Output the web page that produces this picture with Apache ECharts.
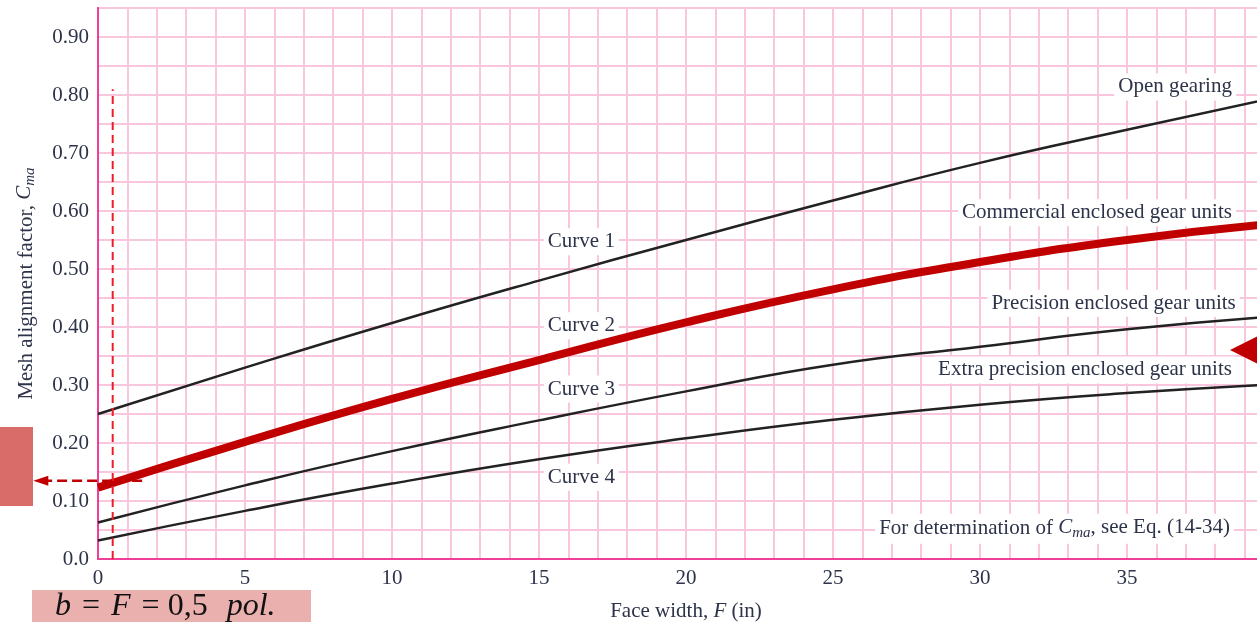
<!DOCTYPE html>
<html><head><meta charset="utf-8">
<script src="https://cdn.jsdelivr.net/npm/echarts@6/dist/echarts.min.js"></script>
<style>html,body{margin:0;padding:0;background:#fff}#c{width:1257px;height:622px}</style>
</head><body><div id="c"></div>
<script>
// ---- data ----
const faceWidth = [0, 5, 10, 15, 20, 25, 30, 35, 40];
const curve1 = [0.250, 0.330, 0.407, 0.480, 0.550, 0.618, 0.683, 0.740, 0.795]; // Open gearing
const curve2 = [0.123, 0.202, 0.276, 0.343, 0.408, 0.465, 0.512, 0.550, 0.578]; // Commercial enclosed
const curve3 = [0.063, 0.127, 0.186, 0.239, 0.289, 0.335, 0.366, 0.396, 0.418]; // Precision enclosed
const curve4 = [0.032, 0.083, 0.130, 0.172, 0.208, 0.240, 0.266, 0.286, 0.301]; // Extra precision
const xTickLabels = ['0', '5', '10', '15', '20', '25', '30', '35', '40'];
const yTickLabels = ['0.0', '0.10', '0.20', '0.30', '0.40', '0.50', '0.60', '0.70', '0.80', '0.90'];
const selectedF = [0.5, 0.5];
const selectedFRange = [0, 0.81];
const readArrowF = [1.5, -2.2];
const readArrowC = [0.135, 0.135];
const curveNames = ['Curve 1', 'Curve 2', 'Curve 3', 'Curve 4'];
const curveNameF = [15.3, 15.3, 15.3, 15.3];
const curveNameC = [0.547, 0.402, 0.293, 0.141];
const typeNames = ['Open gearing', 'Commercial enclosed gear units', 'Precision enclosed gear units', 'Extra precision enclosed gear units'];
const typeNameF = [38.57, 38.57, 38.7, 38.57];
const typeNameC = [0.814, 0.597, 0.441, 0.326];
const noteF = 38.5, noteC = 0.052;

const FONT = 'Liberation Serif';
const FS = 21;
const TXT = '#2d3349';
const pair = (xs, ys) => xs.map((x, i) => [x, ys[i]]);

const chart = echarts.init(document.getElementById('c'), null, {renderer: 'canvas'});
const gridLine = {show: true, lineStyle: {color: '#f9c6dd', width: 2}};
const lineCommon = {type: 'line', smooth: 0.5, showSymbol: false, symbol: 'none'};
const option = {
  animation: false,
  grid: {left: 98, top: 8, width: 1176, height: 551, containLabel: false, outerBoundsMode: 'none',
    show: true, borderColor: '#ef3f98', borderWidth: 2, backgroundColor: 'transparent'},
  xAxis: {
    type: 'value', min: 0, max: 40, interval: 1,
    axisLine: {show: true, lineStyle: {color: '#ef3f98', width: 2}},
    axisTick: {show: false}, splitLine: gridLine,
    axisLabel: {margin: 9, fontFamily: FONT, fontSize: FS, color: TXT,
      formatter: v => (v % 5 === 0 ? xTickLabels[v / 5] : '')},
    name: 'Face width, {i|F} (in)', nameLocation: 'middle', nameGap: 42,
    nameTextStyle: {fontFamily: FONT, fontSize: FS, color: TXT,
      rich: {i: {fontFamily: FONT, fontSize: FS, fontStyle: 'italic', color: TXT}}}
  },
  yAxis: {
    type: 'value', min: 0, max: 0.95, interval: 0.05,
    axisLine: {show: true, lineStyle: {color: '#ef3f98', width: 2}},
    axisTick: {show: false}, splitLine: gridLine,
    axisLabel: {margin: 9, fontFamily: FONT, fontSize: FS, color: TXT,
      formatter: v => { const k = Math.round(v * 20); return k % 2 === 0 ? (yTickLabels[k / 2] || '') : ''; }},
    name: 'Mesh alignment factor, {i|C}{s|ma}', nameLocation: 'middle', nameGap: 84,
    nameTextStyle: {fontFamily: FONT, fontSize: FS, color: TXT, verticalAlign: 'top',
      rich: {
        i: {fontFamily: FONT, fontSize: FS, fontStyle: 'italic', color: TXT, verticalAlign: 'top'},
        s: {fontFamily: FONT, fontSize: 15, fontStyle: 'italic', color: TXT, verticalAlign: 'top', padding: [9, 0, 0, 0]}
      }}
  },
  series: [
    Object.assign({data: pair(faceWidth, curve1), lineStyle: {color: '#222', width: 2.5}, z: 3}, lineCommon),
    Object.assign({data: pair(faceWidth, curve3), lineStyle: {color: '#222', width: 2.5}, z: 3}, lineCommon),
    Object.assign({data: pair(faceWidth, curve4), lineStyle: {color: '#222', width: 2.5}, z: 3}, lineCommon),
    Object.assign({data: pair(faceWidth, curve2), lineStyle: {color: '#c00000', width: 8, cap: 'butt'}, z: 4}, lineCommon),
    {type: 'line', data: pair(selectedF, selectedFRange), showSymbol: false, symbol: 'none', clip: false,
      lineStyle: {color: '#ee1c25', width: 2, type: [8, 5]}, z: 5}
  ]
};
chart.setOption(option);

const px = (x, y) => chart.convertToPixel({gridIndex: 0}, [x, y]);
const graphics = [];
const labelStyle = (text, align) => ({
  text, fill: TXT, font: FS + 'px "' + FONT + '"', textAlign: align, textVerticalAlign: 'middle',
  backgroundColor: '#fff', padding: [3, 4, 3, 4]
});
curveNames.forEach((t, i) => {
  const p = px(curveNameF[i], curveNameC[i]);
  graphics.push({type: 'text', x: p[0] - 4, y: p[1], z: 1, style: labelStyle(t, 'left')});
});
typeNames.forEach((t, i) => {
  const p = px(typeNameF[i], typeNameC[i]);
  graphics.push({type: 'text', x: p[0] + 4, y: p[1], z: 1, style: labelStyle(t, 'right')});
});
const np = px(noteF, noteC);
graphics.push({type: 'text', x: np[0] + 4, y: np[1], z: 1, style: {
  text: 'For determination of {i|C}{s|ma}{n|, see Eq. (14-34)}', fill: TXT, font: FS + 'px "' + FONT + '"',
  textAlign: 'right', textVerticalAlign: 'middle', backgroundColor: '#fff', padding: [3, 4, 3, 4],
  rich: {
    n: {fontFamily: FONT, fontSize: FS, fill: TXT, verticalAlign: 'top'},
    i: {fontFamily: FONT, fontSize: FS, fontStyle: 'italic', fill: TXT, verticalAlign: 'top'},
    s: {fontFamily: FONT, fontSize: 15, fontStyle: 'italic', fill: TXT, verticalAlign: 'top', padding: [9, 0, 0, 0]}
  }
}});
// dashed read-off arrow (from the curve at F = 0.5 to the left)
const a0 = px(readArrowF[0], readArrowC[0]);
const a1 = px(readArrowF[1], readArrowC[1]);
graphics.push({type: 'line', z: 20, shape: {x1: a0[0], y1: a0[1], x2: a1[0] + 12, y2: a1[1]},
  style: {stroke: '#c00000', lineWidth: 2.5, lineDash: [10, 5]}});
graphics.push({type: 'polygon', z: 20, shape: {points: [[a1[0], a1[1]], [a1[0] + 15, a1[1] - 5], [a1[0] + 15, a1[1] + 5]]},
  style: {fill: '#c00000'}});
// side annotation boxes
graphics.push({type: 'rect', shape: {x: 0, y: 427, width: 33, height: 79}, style: {fill: '#d96b69'}, z: 1});
graphics.push({type: 'rect', shape: {x: 32, y: 590, width: 279, height: 32}, style: {fill: '#e9b0ae'}, z: 1});
graphics.push({type: 'text', x: 55, y: 607, z: 2, style: {
  text: '{i|b}{n|=}{i|F}{n|= 0,5 }{i|pol.}', textVerticalAlign: 'middle', textAlign: 'left',
  rich: {
    i: {fontFamily: FONT, fontSize: 32, fontStyle: 'italic', fill: '#111'},
    n: {fontFamily: FONT, fontSize: 32, fill: '#111', padding: [0, 11, 0, 11]}
  }
}});
graphics.push({type: 'polygon', shape: {points: [[1230, 350], [1260, 335], [1260, 365]]}, style: {fill: '#c00000'}, z: 10});
chart.setOption({graphic: graphics});
</script>
</body></html>
